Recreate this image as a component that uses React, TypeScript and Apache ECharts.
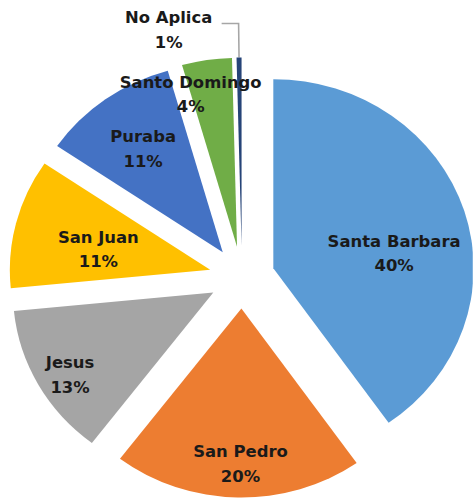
import React, { useEffect, useRef } from "react";
import * as echarts from "echarts";

const categories = ["Santa Barbara", "San Pedro", "Jesus", "San Juan", "Puraba", "Santo Domingo", "No Aplica"];
// shares read from the labels; "No Aplica" estimated from its very thin slice (label shows 1%)
const values = [40, 20, 13, 11, 11, 4, 0.4];
const colors = ["#5B9BD5", "#ED7D31", "#A5A5A5", "#FFC000", "#4472C4", "#70AD47", "#264478"];
// label nudges (style only)
const labelNudges: [number, number][] = [
  [21, 15],
  [1, 58],
  [-50, 35],
  [-11, 4],
  [-18, -24],
  [-29, -56],
  [0, 0],
];

const SX = 1.06;
const W = 473;
const H = 502;

export default function App() {
  const ref = useRef<HTMLDivElement>(null);
  useEffect(() => {
    document.body.style.margin = "0";
    const chart = echarts.init(ref.current!, null, { renderer: "svg" });
    const font = {
      fontFamily: "DejaVu Sans",
      fontWeight: "bold" as const,
      fontSize: 15.5,
      color: "#1a1a1a",
    };
    const data = categories.map((name, i) => {
      const item: any = {
        name,
        value: values[i],
        selected: true,
        itemStyle: { color: colors[i] },
      };
      if (i === categories.length - 1) {
        item.label = {
          position: "outside",
          distanceToLabelLine: 8,
          formatter: "{sp| }\n{nm|{b}}\n{nm|{d}%}",
          rich: {
            sp: { ...font, lineHeight: 14, height: 14 },
            nm: { ...font, lineHeight: 25, width: 84, align: "center" },
          },
        };
        item.labelLine = {
          show: true,
          length: 34,
          length2: 16,
          smooth: false,
          lineStyle: { color: "#A6A6A6", width: 1.5 },
        };
      }
      return item;
    });
    chart.setOption({
      animation: false,
      series: [
        {
          type: "pie",
          silent: true,
          center: [242 / SX, 277.5],
          radius: 189,
          startAngle: 90,
          clockwise: true,
          selectedMode: "multiple",
          selectedOffset: 31,
          percentPrecision: 0,
          avoidLabelOverlap: false,
          label: {
            show: true,
            position: "inside",
            formatter: "{b}\n{d}%",
            ...font,
            lineHeight: 24.5,
            align: "center",
          },
          labelLine: { show: false },
          labelLayout: (params: any) => {
            const n = labelNudges[params.dataIndex] || [0, 0];
            return { dx: n[0], dy: n[1] };
          },
          itemStyle: { borderWidth: 0 },
          select: { itemStyle: { borderWidth: 0 } },
          emphasis: { disabled: true },
          data,
        },
      ],
    });
    return () => chart.dispose();
  }, []);
  return (
    <div style={{ width: W, height: H, overflow: "hidden", position: "relative" }}>
      <div
        ref={ref}
        style={{
          width: W / SX,
          height: H,
          transform: `scaleX(${SX})`,
          transformOrigin: "0 0",
        }}
      />
    </div>
  );
}
